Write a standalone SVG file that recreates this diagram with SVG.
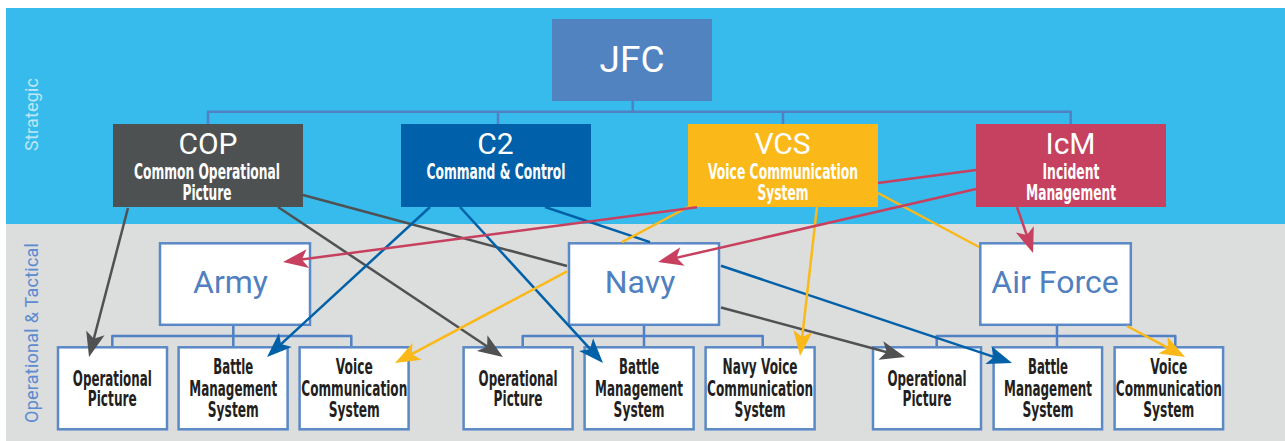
<svg xmlns="http://www.w3.org/2000/svg" width="1285" height="441" viewBox="0 0 1285 441">
  <style>
    .big { font-family: Roboto, "Liberation Sans", sans-serif; text-anchor: middle; }
    .top-title { fill: #ffffff; font-size: 30px; }
    .sub { font-family: "DejaVu Sans Condensed", "DejaVu Sans", sans-serif; font-weight: bold; font-size: 21px; text-anchor: middle; }
    .sub-w { fill: #ffffff; }
    .sub-k { fill: #231f20; }
    .mid-box { fill: #ffffff; stroke: #5a89c6; stroke-width: 2.5; }
    .leaf { fill: #ffffff; stroke: #5a89c6; stroke-width: 2.5; }
    .mid-title { fill: #5080c0; font-size: 32px; }
    .tree { fill: none; stroke: #4f81c4; stroke-width: 2.5; stroke-linejoin: round; }
    .side { font-family: Roboto, "Liberation Sans", sans-serif; font-size: 18px; text-anchor: middle; }
    .c { fill: none; stroke-width: 2.5; }
    .gray { stroke: #4f5152; }
    .blue { stroke: #0061a9; }
    .yellow { stroke: #fbb919; }
    .red { stroke: #c7405f; }
  </style>
  <defs>
    <marker id="ah-gray" viewBox="-21 -10 27 20" refX="0" refY="0" markerWidth="27" markerHeight="20" markerUnits="userSpaceOnUse" orient="auto">
      <path d="M5,0 L-20,-9.5 L-14,0 L-20,9.5 Z" fill="#4f5152"/>
    </marker>
    <marker id="ah-blue" viewBox="-21 -10 27 20" refX="0" refY="0" markerWidth="27" markerHeight="20" markerUnits="userSpaceOnUse" orient="auto">
      <path d="M5,0 L-20,-9.5 L-14,0 L-20,9.5 Z" fill="#0061a9"/>
    </marker>
    <marker id="ah-yellow" viewBox="-21 -10 27 20" refX="0" refY="0" markerWidth="27" markerHeight="20" markerUnits="userSpaceOnUse" orient="auto">
      <path d="M5,0 L-20,-9.5 L-14,0 L-20,9.5 Z" fill="#fbb919"/>
    </marker>
    <marker id="ah-red" viewBox="-21 -10 27 20" refX="0" refY="0" markerWidth="27" markerHeight="20" markerUnits="userSpaceOnUse" orient="auto">
      <path d="M5,0 L-20,-9.5 L-14,0 L-20,9.5 Z" fill="#c7405f"/>
    </marker>
  </defs>

  <!-- tier bands -->
  <g id="bands">
    <rect x="0" y="0" width="1285" height="441" fill="#ffffff"/>
    <rect x="6" y="8" width="1279" height="216" fill="#36bbec"/>
    <rect x="6" y="224" width="1279" height="217" fill="#dcdddd"/>
    <text class="side" fill="#bde6f8" transform="translate(38.3,114.5) rotate(-90)" textLength="73" lengthAdjust="spacing">Strategic</text>
    <text class="side" fill="#5b8bd0" transform="translate(38.3,333) rotate(-90)" textLength="180" lengthAdjust="spacing">Operational &amp; Tactical</text>
  </g>

  <!-- hierarchy lines -->
  <g id="tree">
    <path class="tree" d="M632.7,101 V111.7 M208,124 V111.7 H1070.7 V124 M498,111.7 V124 M783,111.7 V124"/>
    <path class="tree" d="M233.3,326 V346 M112.3,346 V336 H351.3 V346"/>
    <path class="tree" d="M644,326 V346 M522.7,346 V336 H762.7 V346"/>
    <path class="tree" d="M1057,326 V346 M936.7,346 V336 H1175.3 V346"/>
  </g>

  <!-- strategic tier -->
  <g id="jfc">
    <rect x="552" y="19" width="160" height="82" fill="#5283c1"/>
    <text class="big" x="632" y="71.7" fill="#ffffff" font-size="37">JFC</text>
  </g>
  <g id="cop">
    <rect x="113" y="124" width="190" height="83" fill="#4e5152"/>
    <text class="big top-title" x="208" y="154">COP</text>
    <text class="sub sub-w" x="207" y="179" textLength="146" lengthAdjust="spacingAndGlyphs">Common Operational</text>
    <text class="sub sub-w" x="207" y="199.5" textLength="49" lengthAdjust="spacingAndGlyphs">Picture</text>
  </g>
  <g id="c2">
    <rect x="401" y="124" width="190" height="83" fill="#0060a9"/>
    <text class="big top-title" x="495.5" y="154">C2</text>
    <text class="sub sub-w" x="496" y="179" textLength="139" lengthAdjust="spacingAndGlyphs">Command &amp; Control</text>
  </g>
  <g id="vcs">
    <rect x="688" y="124" width="190" height="83" fill="#fbb819"/>
    <text class="big top-title" x="782.5" y="154">VCS</text>
    <text class="sub sub-w" x="783" y="179" textLength="150" lengthAdjust="spacingAndGlyphs">Voice Communication</text>
    <text class="sub sub-w" x="783" y="199.5" textLength="51" lengthAdjust="spacingAndGlyphs">System</text>
  </g>
  <g id="icm">
    <rect x="976" y="124" width="190" height="83" fill="#c6405f"/>
    <text class="big top-title" x="1070.5" y="154">IcM</text>
    <text class="sub sub-w" x="1071" y="179" textLength="57" lengthAdjust="spacingAndGlyphs">Incident</text>
    <text class="sub sub-w" x="1071" y="199.5" textLength="90" lengthAdjust="spacingAndGlyphs">Management</text>
  </g>

  <!-- operational tier -->
  <g id="army">
    <rect class="mid-box" x="160" y="243.3" width="150" height="81.5"/>
    <text class="big mid-title" x="230.5" y="292.7">Army</text>
  </g>
  <g id="navy">
    <rect class="mid-box" x="569" y="243.3" width="150" height="81.5"/>
    <text class="big mid-title" x="640" y="292.7">Navy</text>
  </g>
  <g id="air-force">
    <rect class="mid-box" x="980.3" y="243.3" width="150.5" height="81.5"/>
    <text class="big mid-title" x="1055" y="292.7">Air Force</text>
  </g>

  <!-- tactical systems -->
  <g id="army-op">
    <rect class="leaf" x="58" y="347.3" width="109" height="82"/>
    <text class="sub sub-k" x="112.3" y="385.7" textLength="79" lengthAdjust="spacingAndGlyphs">Operational</text>
    <text class="sub sub-k" x="112.3" y="405.7" textLength="49" lengthAdjust="spacingAndGlyphs">Picture</text>
  </g>
  <g id="army-bms">
    <rect class="leaf" x="178.6" y="347.3" width="109" height="82"/>
    <text class="sub sub-k" x="233.3" y="374" textLength="40" lengthAdjust="spacingAndGlyphs">Battle</text>
    <text class="sub sub-k" x="233.3" y="395.7" textLength="88" lengthAdjust="spacingAndGlyphs">Management</text>
    <text class="sub sub-k" x="233.3" y="416.7" textLength="51" lengthAdjust="spacingAndGlyphs">System</text>
  </g>
  <g id="army-vcs">
    <rect class="leaf" x="299.6" y="347.3" width="109" height="82"/>
    <text class="sub sub-k" x="354.3" y="374" textLength="37" lengthAdjust="spacingAndGlyphs">Voice</text>
    <text class="sub sub-k" x="354.3" y="395.7" textLength="106" lengthAdjust="spacingAndGlyphs">Communication</text>
    <text class="sub sub-k" x="354.3" y="416.7" textLength="51" lengthAdjust="spacingAndGlyphs">System</text>
  </g>
  <g id="navy-op">
    <rect class="leaf" x="463.6" y="347.3" width="109" height="82"/>
    <text class="sub sub-k" x="518.1" y="385.7" textLength="79" lengthAdjust="spacingAndGlyphs">Operational</text>
    <text class="sub sub-k" x="518.1" y="405.7" textLength="49" lengthAdjust="spacingAndGlyphs">Picture</text>
  </g>
  <g id="navy-bms">
    <rect class="leaf" x="584.6" y="347.3" width="109" height="82"/>
    <text class="sub sub-k" x="639.1" y="374" textLength="40" lengthAdjust="spacingAndGlyphs">Battle</text>
    <text class="sub sub-k" x="639.1" y="395.7" textLength="88" lengthAdjust="spacingAndGlyphs">Management</text>
    <text class="sub sub-k" x="639.1" y="416.7" textLength="51" lengthAdjust="spacingAndGlyphs">System</text>
  </g>
  <g id="navy-vcs">
    <rect class="leaf" x="705.6" y="347.3" width="109" height="82"/>
    <text class="sub sub-k" x="760.1" y="374" textLength="75" lengthAdjust="spacingAndGlyphs">Navy Voice</text>
    <text class="sub sub-k" x="760.1" y="395.7" textLength="106" lengthAdjust="spacingAndGlyphs">Communication</text>
    <text class="sub sub-k" x="760.1" y="416.7" textLength="51" lengthAdjust="spacingAndGlyphs">System</text>
  </g>
  <g id="af-op">
    <rect class="leaf" x="873" y="347.3" width="108" height="82"/>
    <text class="sub sub-k" x="927" y="385.7" textLength="79" lengthAdjust="spacingAndGlyphs">Operational</text>
    <text class="sub sub-k" x="927" y="405.7" textLength="49" lengthAdjust="spacingAndGlyphs">Picture</text>
  </g>
  <g id="af-bms">
    <rect class="leaf" x="993.6" y="347.3" width="108.5" height="82"/>
    <text class="sub sub-k" x="1048" y="374" textLength="40" lengthAdjust="spacingAndGlyphs">Battle</text>
    <text class="sub sub-k" x="1048" y="395.7" textLength="88" lengthAdjust="spacingAndGlyphs">Management</text>
    <text class="sub sub-k" x="1048" y="416.7" textLength="51" lengthAdjust="spacingAndGlyphs">System</text>
  </g>
  <g id="af-vcs">
    <rect class="leaf" x="1114.6" y="347.3" width="108.5" height="82"/>
    <text class="sub sub-k" x="1168.8" y="374" textLength="37" lengthAdjust="spacingAndGlyphs">Voice</text>
    <text class="sub sub-k" x="1168.8" y="395.7" textLength="106" lengthAdjust="spacingAndGlyphs">Communication</text>
    <text class="sub sub-k" x="1168.8" y="416.7" textLength="51" lengthAdjust="spacingAndGlyphs">System</text>
  </g>

  <!-- system links; gaps where a link runs behind a box -->
  <g id="connectors">
    <path class="c gray" d="M128,208 L90.3,352.2" marker-end="url(#ah-gray)"/>
    <path class="c gray" d="M278,207 L498.8,354.2" marker-end="url(#ah-gray)"/>
    <path class="c gray" d="M303,195 L567,266 M721,307.5 L900.2,355.7" marker-end="url(#ah-gray)"/>
    <path class="c blue" d="M430,207 L270.7,353.6" marker-end="url(#ah-blue)"/>
    <path class="c blue" d="M460,207 L599.6,359.3" marker-end="url(#ah-blue)"/>
    <path class="c blue" d="M545,207 L650,242.1 M721,265.8 L1007.3,361.4" marker-end="url(#ah-blue)"/>
    <path class="c yellow" d="M688,207 L622,242.1 M567,271.4 L399.4,360.7" marker-end="url(#ah-yellow)"/>
    <path class="c yellow" d="M817,207 L800.6,351" marker-end="url(#ah-yellow)"/>
    <path class="c yellow" d="M878,193 L979,247 M1127,326 L1180.6,354.6" marker-end="url(#ah-yellow)"/>
    <path class="c red" d="M976,170 L878,183 M697,207.2 L288,261.3" marker-end="url(#ah-red)"/>
    <path class="c red" d="M976,189 L662.9,260.9" marker-end="url(#ah-red)"/>
    <path class="c red" d="M1017,207 L1031.4,248.3" marker-end="url(#ah-red)"/>
  </g>
</svg>
